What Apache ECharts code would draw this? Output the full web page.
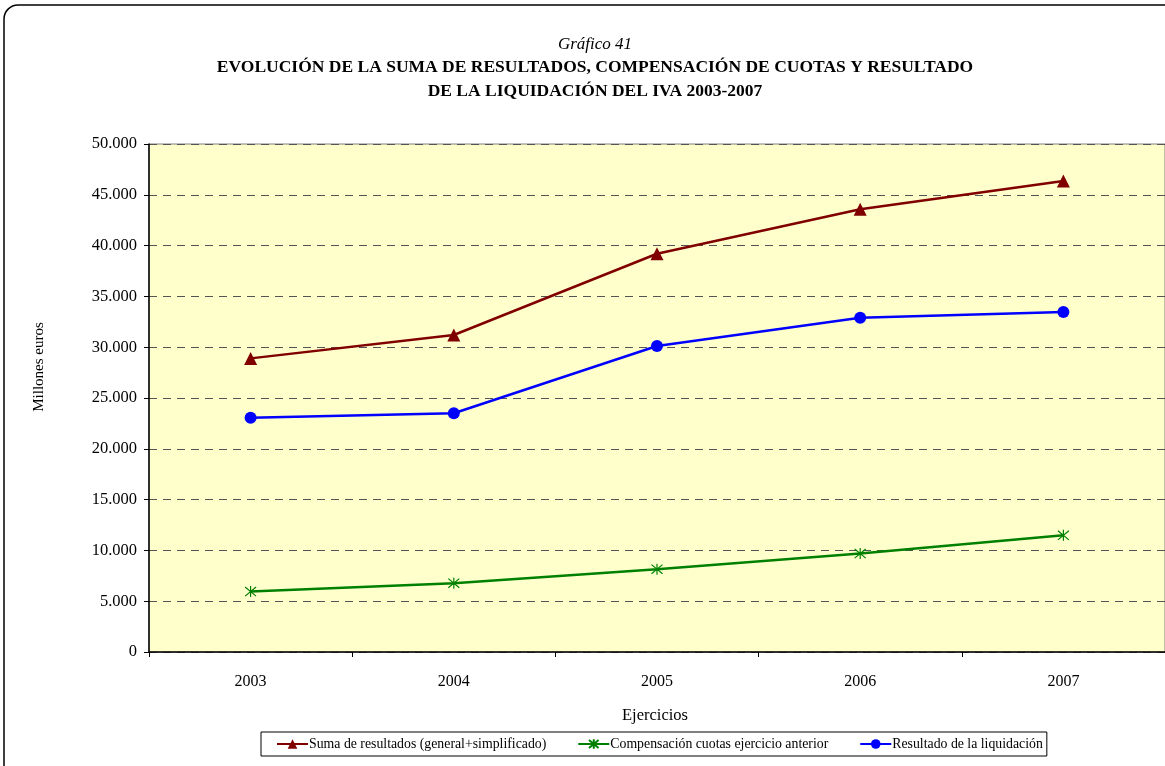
<!DOCTYPE html>
<html>
<head>
<meta charset="utf-8">
<script src="https://cdn.jsdelivr.net/npm/echarts@6/dist/echarts.min.js"></script>
<style>
  html, body { margin: 0; padding: 0; background: #ffffff; }
  #chart { width: 1165px; height: 766px; }
</style>
</head>
<body>
<div id="chart"></div>
<script>
// Ejercicios (categorías del eje X)
const years = ['2003', '2004', '2005', '2006', '2007'];

// Millones de euros
const sumaResultados = [28900, 31200, 39200, 43580, 46350];
const compensacionCuotas = [5950, 6770, 8150, 9690, 11490];
const resultadoLiquidacion = [23050, 23500, 30120, 32890, 33460];

// Eje Y
const yMin = 0;
const yMax = 50000;
const yStep = 5000;

const serif = "'Liberation Serif', 'Times New Roman', serif";
const asterisk = 'path://M0,0 L10,10 M10,0 L0,10 M5,-1 L5,11';

function miles(v) {
  return String(v).replace(/\B(?=(\d{3})+(?!\d))/g, '.');
}

const chart = echarts.init(document.getElementById('chart'));

chart.setOption({
  backgroundColor: '#ffffff',
  animation: false,
  title: {
    left: 590,
    top: 30,
    textAlign: 'center',
    text: '{a|Gráfico 41}\n{b|EVOLUCIÓN DE LA SUMA DE RESULTADOS, COMPENSACIÓN DE CUOTAS Y RESULTADO}\n{b|DE LA LIQUIDACIÓN DEL IVA 2003-2007}',
    textStyle: {
      fontFamily: serif,
      rich: {
        a: { fontFamily: serif, fontStyle: 'italic', fontWeight: 'normal', fontSize: 17, color: '#000', lineHeight: 20 },
        b: { fontFamily: serif, fontWeight: 'bold', fontSize: 17.5, color: '#000', lineHeight: 24 }
      }
    }
  },
  graphic: [
    {
      type: 'rect',
      shape: { x: 4, y: 5, width: 1220, height: 820, r: 14 },
      style: { fill: 'none', stroke: '#000', lineWidth: 1.5 },
      silent: true
    },
    {
      type: 'text',
      x: 39,
      y: 367,
      rotation: Math.PI / 2,
      style: {
        text: 'Millones euros',
        font: '15px ' + serif,
        fill: '#000',
        align: 'center',
        verticalAlign: 'middle'
      }
    },
    {
      type: 'text',
      x: 655,
      y: 716,
      style: {
        text: 'Ejercicios',
        font: '16.5px ' + serif,
        fill: '#000',
        align: 'center',
        verticalAlign: 'middle'
      }
    }
  ],
  legend: {
    left: 261,
    top: 732,
    orient: 'horizontal',
    backgroundColor: '#ffffff',
    borderColor: '#000',
    borderWidth: 1,
    padding: [5, 4, 5, 15],
    itemGap: 31,
    itemWidth: 31,
    itemHeight: 12,
    textStyle: { fontFamily: serif, fontSize: 13.8, color: '#000', padding: [0, 0, 0, -4] },
    data: [
      'Suma de resultados (general+simplificado)',
      'Compensación cuotas ejercicio anterior',
      'Resultado de la liquidación'
    ]
  },
  grid: {
    left: 149,
    right: 0,
    top: 144,
    bottom: 114,
    show: true,
    backgroundColor: '#FFFFCC',
    borderColor: '#808080',
    borderWidth: 1
  },
  xAxis: {
    type: 'category',
    data: years,
    boundaryGap: true,
    axisLine: { show: true, lineStyle: { color: '#000', width: 1.5 } },
    axisTick: { show: true, length: 5, lineStyle: { color: '#000' } },
    axisLabel: { fontFamily: serif, fontSize: 16, color: '#000', margin: 22 },
    splitLine: { show: false }
  },
  yAxis: {
    type: 'value',
    min: yMin,
    max: yMax,
    interval: yStep,
    axisLine: { show: true, lineStyle: { color: '#000', width: 1.5 } },
    axisTick: { show: true, inside: false, length: 5, lineStyle: { color: '#000' } },
    axisLabel: { fontFamily: serif, fontSize: 16.5, color: '#000', margin: 12, formatter: miles },
    splitLine: { show: true, lineStyle: { color: '#555', type: [8, 6], width: 1 } }
  },
  series: [
    {
      name: 'Suma de resultados (general+simplificado)',
      type: 'line',
      data: sumaResultados,
      symbol: 'triangle',
      symbolSize: 13,
      lineStyle: { color: '#800000', width: 2.5 },
      itemStyle: { color: '#800000' }
    },
    {
      name: 'Compensación cuotas ejercicio anterior',
      type: 'line',
      data: compensacionCuotas,
      symbol: asterisk,
      symbolSize: 11,
      lineStyle: { color: '#008000', width: 2.5 },
      itemStyle: { color: '#008000', borderColor: '#008000', borderWidth: 1.2 }
    },
    {
      name: 'Resultado de la liquidación',
      type: 'line',
      data: resultadoLiquidacion,
      symbol: 'circle',
      symbolSize: 12,
      lineStyle: { color: '#0000FF', width: 2.5 },
      itemStyle: { color: '#0000FF' }
    }
  ]
});
</script>
</body>
</html>
